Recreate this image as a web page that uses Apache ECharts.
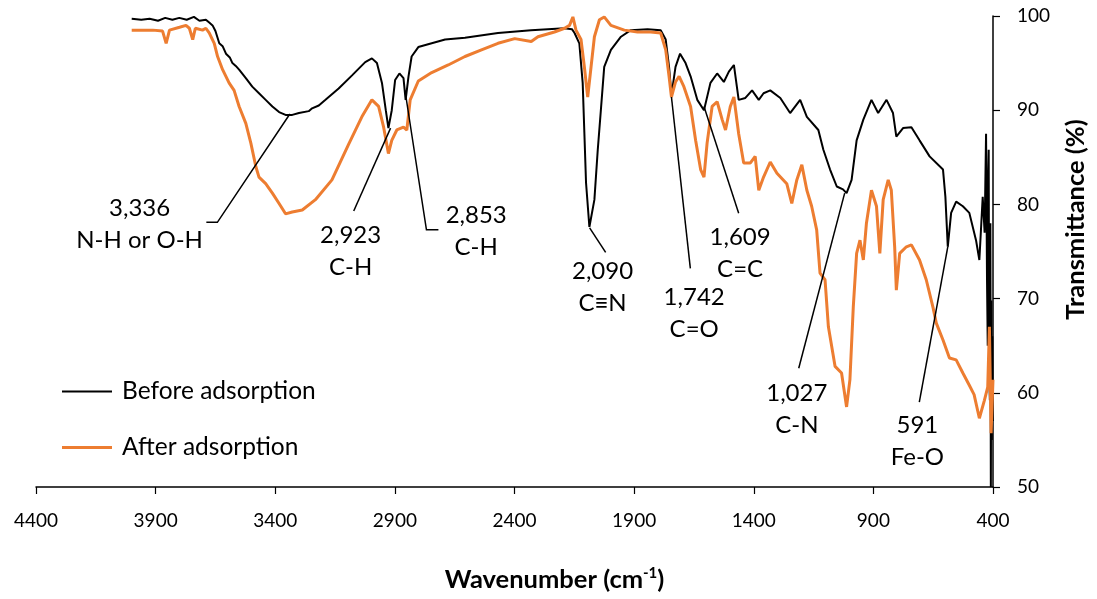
<!DOCTYPE html>
<html><head><meta charset="utf-8">
<script src="https://cdn.jsdelivr.net/npm/echarts@6/dist/echarts.min.js"></script>
<style>html,body{margin:0;padding:0;background:#fff}#c{width:1097px;height:599px}</style>
</head><body><div id="c"></div>
<script>
// ---- data ----
const seriesNames = ['Before adsorption', 'After adsorption'];
const xTicks = [4400, 3900, 3400, 2900, 2400, 1900, 1400, 900, 400];
const yTicks = [50, 60, 70, 80, 90, 100];

const beforeWn = [4000,3960,3925,3890,3860,3830,3801,3770,3740,3717,3690,3676,3662,3650,3634,3620,3606,3590,3579,3565,3551,3523,3496,3468,3440,3412,3384,3357,3329,3301,3260,3246,3218,3190,3135,3079,3024,2996,2975,2954,2938,2927,2913,2899,2881,2864,2855,2843,2830,2802,2746,2690,2607,2469,2331,2191,2160,2149,2129,2115,2108,2101,2087,2066,2052,2039,2025,1997,1955,1914,1844,1789,1768,1754,1744,1727,1708,1685,1664,1636,1608,1581,1553,1525,1504,1483,1463,1435,1407,1379,1359,1331,1289,1248,1206,1178,1130,1109,1081,1053,1027,1012,991,970,942,908,880,845,818,804,776,741,707,665,609,599,589,575,554,526,499,471,457,443,435,429,425,422,420,418,416,413,411,409,407,405,403,401,400];
const beforeT = [99.7,99.6,99.7,99.5,99.8,99.6,99.8,99.6,99.9,99.5,99.6,99.3,99.0,98.4,97.1,96.8,96.0,95.6,95.0,94.7,94.3,93.4,92.5,91.8,91.1,90.4,89.8,89.5,89.5,89.7,89.9,90.2,90.5,91.1,92.3,93.7,95.1,95.5,95.0,92.9,90.0,88.1,90.0,93.2,93.9,93.4,91.1,93.6,95.7,96.7,97.1,97.5,97.7,98.2,98.5,98.7,98.6,98.2,97.1,92.9,87.6,82.3,77.6,80.5,85.8,90.0,94.6,96.4,97.8,98.5,98.6,98.5,97.5,94.6,91.6,94.6,96.0,95.0,93.6,91.1,90.0,92.9,93.9,93.0,94.1,94.8,91.1,91.3,92.1,91.1,91.8,92.1,91.3,89.7,91.1,89.3,87.9,85.8,83.7,81.9,81.6,81.2,82.6,86.8,89.0,91.1,89.7,91.1,89.7,87.2,88.1,88.2,86.8,85.1,83.7,80.8,75.5,79.1,80.3,79.8,79.1,76.2,74.1,80.8,77.0,87.5,72.0,65.0,83.0,85.8,62.0,59.2,78.0,50.0,69.8,55.0,66.0,57.0];

const afterWn = [4000,3950,3912,3871,3856,3842,3800,3773,3759,3745,3734,3704,3690,3676,3655,3641,3620,3593,3572,3551,3523,3502,3481,3468,3440,3412,3384,3357,3329,3287,3232,3163,3093,3038,2996,2968,2947,2927,2913,2892,2864,2850,2836,2802,2746,2677,2607,2538,2469,2399,2330,2302,2233,2191,2170,2156,2143,2122,2108,2094,2080,2066,2045,2025,1997,1941,1886,1831,1789,1768,1754,1744,1727,1712,1692,1664,1643,1622,1608,1595,1574,1553,1532,1518,1498,1483,1463,1442,1414,1394,1379,1359,1331,1303,1262,1241,1220,1199,1178,1158,1137,1123,1102,1088,1060,1033,1012,998,984,970,956,942,929,908,887,873,859,838,825,811,804,790,762,741,707,679,651,637,609,582,554,526,499,479,457,436,422,415,408,400];
const afterT = [98.5,98.5,98.5,98.4,97.1,98.5,98.8,99.0,98.7,97.5,98.7,98.5,98.7,98.2,97.1,95.7,94.3,92.9,92.1,90.4,88.6,86.5,84.0,82.9,82.2,81.2,80.1,79.0,79.2,79.4,80.5,82.6,86.4,89.3,91.1,90.4,88.2,85.4,86.8,87.9,88.2,87.9,91.1,93.1,94.0,94.8,95.7,96.4,97.1,97.6,97.3,97.8,98.3,98.7,99.0,99.9,98.5,97.5,94.6,91.4,94.6,97.8,99.6,99.9,99.0,98.5,98.3,98.3,98.2,96.4,93.6,91.4,93.0,93.6,92.5,90.4,86.8,83.7,82.9,86.5,90.4,90.9,89.0,87.9,90.4,91.4,87.5,84.4,84.4,85.1,81.5,82.9,84.5,83.3,82.2,80.1,82.6,84.2,81.5,79.8,77.3,72.7,72.0,67.0,62.8,62.1,58.5,61.4,69.1,74.8,76.2,74.1,78.0,81.5,79.8,74.8,80.5,82.6,81.5,75.5,70.9,74.8,75.5,75.7,74.1,72.0,69.1,67.4,65.6,63.7,63.5,62.1,60.8,59.8,57.3,59.2,60.6,67.0,55.7,61.4];

// peak annotations
const annNumbers = ['3,336','2,923','2,853','2,090','1,742','1,609','1,027','591'];
const annBonds = ['N-H or O-H','C-H','C-H','C\u2261N','C=O','C=C','C-N','Fe-O'];
const annPeakWn = [3339, 2918, 2856, 2086, 1744, 1608, 1020, 589];
const annPeakT = [89.6, 88.1, 91.8, 77.5, 91.4, 90.4, 81.2, 75.5];
// leader path after the peak point (data coordinates)
const annLeaderWn = [[3642,3688],[3072],[2768,2718],[2019],[1665],[1463],[1212],[708]];
const annLeaderT = [[78.1,78.1],[79.3],[77.3,77.3],[74.9],[73.2],[79.05],[62.6],[59.0]];
// label block centre (data coordinates)
const annTextWn = [3967, 3085, 2560, 2032, 1649, 1457, 1220, 716];
const annTextT = [77.9, 75.05, 77.2, 71.2, 68.4, 74.8, 58.3, 54.9];

// ---- chart ----
const FONT = 'Lato, "Open Sans", sans-serif';
const zip = (a, b) => a.map((v, i) => [v, b[i]]);
// legend line icons: invisible move-tos fix the box, a thin bar sits in the middle
const iconBlack = 'path://M0,0M50,14M0,6H50V8H0Z';
const iconOrange = 'path://M0,0M50,14M0,5.5H50V8.5H0Z';

const chart = echarts.init(document.getElementById('c'), null, {renderer: 'canvas'});
const option = {
  animation: false,
  grid: {left: 36, right: 100, top: 16, bottom: 112, containLabel: false},
  legend: {
    data: [{name: seriesNames[0], icon: iconBlack}, {name: seriesNames[1], icon: iconOrange}],
    orient: 'vertical', left: 62, top: 379, padding: 0,
    itemWidth: 50, itemHeight: 14, itemGap: 31,
    textStyle: {fontSize: 24.5, fontFamily: FONT, color: '#000', padding: [0, 0, 0, 5]}
  },
  xAxis: {
    type: 'value', min: xTicks[xTicks.length - 1], max: xTicks[0], interval: 500, inverse: true,
    axisLine: {onZero: false, lineStyle: {color: '#000', width: 1.5}},
    axisTick: {show: true, length: 7, lineStyle: {color: '#000', width: 1.2}},
    axisLabel: {margin: 24, fontSize: 19, color: '#000', fontFamily: FONT, formatter: v => String(v)},
    splitLine: {show: false},
    name: '{a|Wavenumber (cm}{s|-1}{a|)}', nameLocation: 'middle', nameGap: 79,
    nameTextStyle: {
      padding: [0, 0, 0, 80],
      rich: {
        a: {fontSize: 25.5, fontWeight: 'bold', fontFamily: FONT, color: '#000'},
        s: {fontSize: 15, fontWeight: 'bold', fontFamily: FONT, color: '#000', verticalAlign: 'top', padding: [0, 0, 12, 0]}
      }
    }
  },
  yAxis: {
    type: 'value', position: 'right', min: yTicks[0], max: yTicks[yTicks.length - 1], interval: 10,
    axisLine: {show: true, onZero: false, lineStyle: {color: '#000', width: 1.5}},
    axisTick: {show: true, length: 7, lineStyle: {color: '#000', width: 1.2}},
    axisLabel: {margin: 24, fontSize: 19, color: '#000', fontFamily: FONT},
    splitLine: {show: false},
    name: 'Transmittance (%)', nameLocation: 'middle', nameRotate: 90, nameGap: 70,
    nameTextStyle: {fontSize: 25.5, fontWeight: 'bold', fontFamily: FONT, color: '#000', padding: [0, 0, 0, 64]}
  },
  series: [
    {
      name: seriesNames[0], type: 'line', data: zip(beforeWn, beforeT),
      symbol: 'none', showSymbol: false, color: '#000',
      lineStyle: {color: '#000', width: 2}, z: 2
    },
    {
      name: seriesNames[1], type: 'line', data: zip(afterWn, afterT),
      symbol: 'none', showSymbol: false, color: '#ED7D31',
      lineStyle: {color: '#ED7D31', width: 3}, z: 3
    },
    {
      name: 'annotations', type: 'custom', z: 5, silent: true,
      data: annPeakWn.map((w, i) => [w, annPeakT[i], i]),
      encode: {x: 0, y: 1},
      renderItem: function (params, api) {
        const i = api.value(2);
        const pts = [api.coord([annPeakWn[i], annPeakT[i]])];
        annLeaderWn[i].forEach((w, k) => pts.push(api.coord([w, annLeaderT[i][k]])));
        const c = api.coord([annTextWn[i], annTextT[i]]);
        return {
          type: 'group',
          children: [
            {type: 'polyline', shape: {points: pts}, style: {stroke: '#000', lineWidth: 1.5, fill: null}},
            {type: 'text', x: c[0], y: c[1], style: {
              text: annNumbers[i] + '\n' + annBonds[i], fill: '#000',
              fontSize: 24, fontFamily: FONT, lineHeight: 32, align: 'center', verticalAlign: 'middle'
            }}
          ]
        };
      }
    }
  ]
};
chart.setOption(option);
</script></body></html>
